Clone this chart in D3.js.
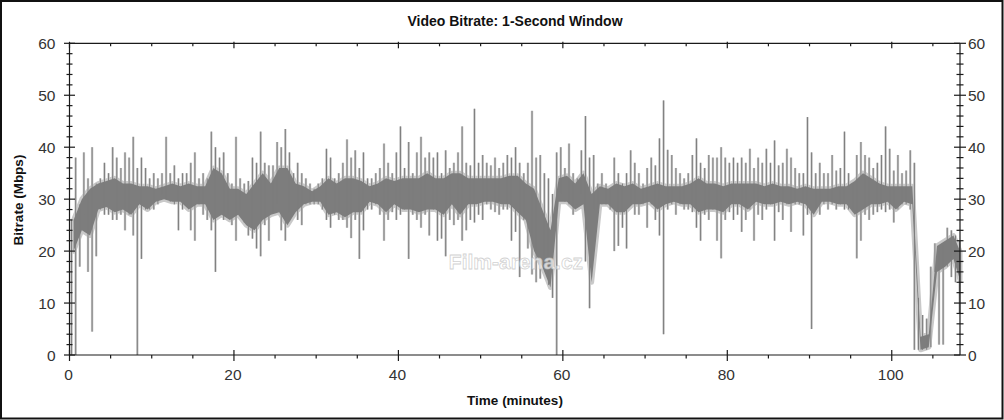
<!DOCTYPE html>
<html>
<head>
<meta charset="utf-8">
<script src="https://cdn.jsdelivr.net/npm/d3@7"></script>
<style>
  html, body { margin: 0; padding: 0; background: #fff; }
  svg { display: block; }
  text { font-family: "Liberation Sans", Arial, sans-serif; }
</style>
</head>
<body>
<svg id="chart" width="1004" height="420"></svg>
<script>
// ---- data ----
const title = "Video Bitrate: 1-Second Window";
const xLabel = "Time (minutes)";
const yLabel = "Bitrate (Mbps)";
const watermark = "Film-arena.cz";
const xTicks = [0, 20, 40, 60, 80, 100];
const yTicks = [0, 10, 20, 30, 40, 50, 60];
const binMinutes = 0.5;   // each entry of binHigh / binLow covers half a minute
const coreMinutes = 1;    // each entry of coreHigh / coreLow covers one minute
// per-bin peak bitrate (Mbps)
const binHigh = [
  26, 38, 29, 39, 34, 40, 33, 34, 37, 35,
  40, 38, 36, 39, 38, 42, 36, 38, 36, 34,
  35, 34, 35, 42, 35, 36.5, 34, 35, 35, 37,
  39, 34, 35, 34, 43, 40, 38, 39, 35, 33,
  42, 34, 33, 33.5, 38, 37, 43, 37, 36.5, 36.5,
  41, 40, 43.5, 39, 35, 37, 35, 34, 33, 32,
  33, 34, 39.7, 38, 34, 35, 37, 41.5, 38, 39.4,
  36, 39, 34, 34, 35, 36, 40.7, 37, 35, 39,
  44, 36, 41, 35, 39, 42, 38, 39, 38, 39,
  35, 39.4, 36, 37, 39, 44, 37, 36.5, 47.4, 37,
  38.5, 37, 36.5, 38, 36, 37, 38.5, 38, 40, 37,
  35, 37, 47, 38, 38.5, 35, 34, 31, 39, 40,
  36, 40.7, 35, 34, 39.4, 46, 38, 38.5, 33, 35,
  33, 32, 38, 35, 33, 35, 39.4, 37, 35, 33,
  36, 38, 36.5, 41.7, 49, 39.5, 38.5, 36, 35, 34,
  35, 38.5, 41.7, 37, 36, 38.5, 38, 38, 40, 38,
  37, 38, 37, 38, 37, 39.7, 36, 38, 37, 39.7,
  37, 41.3, 36.5, 37, 39.7, 38, 36, 35, 35, 45.8,
  39, 35, 37, 35, 35, 38.5, 35.5, 36, 43, 35,
  33, 38.5, 41, 38.5, 38, 36, 37, 38.5, 44, 39.7,
  35.5, 38.5, 35, 35.5, 39.4, 37, 11, 7.7, 7, 17,
  21.5, 20, 21, 24.5, 24, 23, 22
];
// per-bin lowest bitrate (Mbps)
const binLow = [
  0, 0, 17, 27, 16, 4.5, 19, 28, 27, 27,
  26, 26, 27, 24, 27, 23, 0, 18.5, 28, 28,
  28, 29, 30.8, 30, 29.5, 29, 24, 28, 29, 24,
  22, 29, 27, 26, 24, 16, 28, 26, 27, 25,
  22, 28, 25.5, 23, 22.4, 20.5, 19, 25, 22, 27.5,
  29, 24, 22, 27.5, 28, 26, 25, 29, 29, 29,
  29, 28, 26, 24.5, 27, 26, 26, 24.5, 22.5, 26,
  18.5, 24, 28, 28, 29, 27, 22, 26, 27.5, 26,
  27, 28, 18.5, 27, 26, 24.5, 27, 23, 28, 22,
  22.4, 19, 26, 25, 26, 22, 24, 26, 25.5, 27,
  26, 29, 28, 27.5, 27, 28, 28, 22, 23.7, 15,
  26, 20.5, 15.5, 14, 14.7, 16.7, 13.5, 11, 0, 31,
  29.5, 29, 27, 29, 31, 18, 9, 28, 28, 29,
  29, 28, 20, 21, 24.5, 20.5, 29, 27, 27, 29,
  24.5, 29, 26, 23, 4, 28, 29, 27, 29, 28,
  28, 27.5, 24.5, 22, 27, 26, 28, 22, 18.6, 26,
  27.5, 26, 27, 23.7, 26, 28, 22, 27, 26, 28,
  29, 22, 27.5, 26, 29, 23.7, 29, 29, 23, 27,
  5, 28, 27, 29, 28, 29, 28, 29, 28, 28,
  28, 18.6, 22, 27, 26, 27, 27.5, 28, 27.5, 28,
  25.5, 28, 29, 29, 28, 1, 1, 1, 1, 1.5,
  16, 2, 2, 17, 15, 14, 8
];
// dense band of the trace, per minute: upper edge (Mbps)
const coreHigh = [
  26, 30, 32, 33, 33.5, 34, 33, 33, 32.5, 32.5,
  32, 32.5, 33, 32.5, 33, 32.5, 32.5, 36, 35, 32,
  32, 31, 33, 35, 33, 36, 36, 33, 32.5, 31.5,
  32.5, 34, 33, 34, 34, 33.5, 32.5, 33, 34, 33.5,
  34, 34, 34, 35, 34, 34, 35, 35, 34, 34,
  34, 34, 34, 34.5, 34.5, 33, 32, 28, 24, 34,
  34.5, 33, 35, 31, 32.5, 32, 33, 32.5, 33, 32,
  32.5, 33, 32.5, 32.5, 32.5, 33, 34, 33, 33, 32.5,
  33, 33, 33, 33, 32.5, 33, 32.5, 32.5, 32, 32.5,
  32, 32, 32, 32.5, 32.5, 33.5, 35, 34, 33, 32.5,
  32.5, 32.5, 32.5, 3.5, 4, 21, 22, 23, 20
];
// dense band of the trace, per minute: lower edge (Mbps)
const coreLow = [
  20, 24, 23, 28, 28.5, 27.5, 28, 27, 29, 28,
  29.5, 30, 29.5, 29.5, 28, 29, 29, 26, 27, 26,
  27, 25, 24, 26, 27, 27.5, 25, 27.5, 29, 29.5,
  29.5, 27, 27.5, 26.5, 27.5, 27.5, 29.5, 29, 27.5, 29,
  28, 28, 27.5, 28, 28, 27, 29, 27, 29, 29,
  29.5, 29.5, 29, 29, 27.5, 26, 20, 17, 13, 29.5,
  29.5, 28, 29, 14, 29, 29, 27.5, 27.5, 29, 29,
  29.5, 28, 29, 29.5, 29, 29, 27.5, 28, 28, 27.5,
  29, 29, 28, 29.5, 29, 29, 29.5, 29, 29.5, 29,
  27, 29.5, 29.5, 29, 29, 27, 28, 29, 29, 29.5,
  28, 29.5, 29, 1, 1.5, 16, 17, 18.5, 14.5
];

// ---- layout ----
const W = 1004, H = 420;
const svg = d3.select("#chart");
const x = d3.scaleLinear().domain([0, 108.3]).range([69.5, 960]);
const y = d3.scaleLinear().domain([0, 60]).range([355, 43.3]);
const axisColor = "#1a1a1a";
const labelColor = "#333";
const traceDark = "#7d7d7d";
const traceLight = "#c9c9c9";

// outer frame
svg.append("rect").attr("x", 1).attr("y", 1).attr("width", W - 2.5).attr("height", H - 2.5)
  .attr("fill", "#fff").attr("stroke", "#111").attr("stroke-width", 2);

const plot = svg.append("g");
const tEnd = x.domain()[1];

// ---- dense band ----
const core = coreHigh.map((h, i) => ({
  t: Math.min(i * coreMinutes + coreMinutes / 2, tEnd), hi: h, lo: coreLow[i]
}));
const area = d3.area().x(d => x(d.t)).y0(d => y(d.lo)).y1(d => y(d.hi));

// ---- per-bin extremes as vertical strokes ----
const bins = binHigh.map((h, i) => ({ t: i * binMinutes + binMinutes / 2, hi: h, lo: binLow[i] }));

// light fringe
plot.append("path").attr("d", area(core)).attr("fill", traceLight)
  .attr("stroke", traceLight).attr("stroke-width", 5).attr("stroke-linejoin", "round");
plot.selectAll("line.halo").data(bins).join("line").attr("class", "halo")
  .attr("x1", d => x(d.t)).attr("x2", d => x(d.t))
  .attr("y1", d => y(d.hi)).attr("y2", d => y(d.lo))
  .attr("stroke", traceLight).attr("stroke-width", 2.4);
// dark trace
plot.append("path").attr("d", area(core)).attr("fill", traceDark).attr("stroke", "none");
plot.selectAll("line.spike").data(bins).join("line").attr("class", "spike")
  .attr("x1", d => x(d.t)).attr("x2", d => x(d.t))
  .attr("y1", d => y(d.hi)).attr("y2", d => y(d.lo))
  .attr("stroke", traceDark).attr("stroke-width", 1);

// watermark
svg.append("text").attr("x", x(54.3)).attr("y", y(16.6))
  .attr("text-anchor", "middle").attr("font-size", 21).attr("font-weight", "bold")
  .attr("fill", "#ffffff").attr("fill-opacity", 0.7)
  .attr("stroke", "#bdbdbd").attr("stroke-width", 0.8).attr("stroke-opacity", 0.7)
  .text(watermark);

// ---- axes ----
const axes = svg.append("g").attr("stroke", axisColor).attr("stroke-width", 1.2);
const [x0, x1] = x.range();
const [yb, yt] = y.range();
axes.append("line").attr("x1", x0).attr("x2", x1).attr("y1", yb).attr("y2", yb);
axes.append("line").attr("x1", x0).attr("x2", x1).attr("y1", yt).attr("y2", yt);
axes.append("line").attr("x1", x0).attr("x2", x0).attr("y1", yt).attr("y2", yb);
axes.append("line").attr("x1", x1).attr("x2", x1).attr("y1", yt).attr("y2", yb);

const xMinor = d3.range(0, tEnd, 5).filter(v => !xTicks.includes(v));
const yMinor = d3.range(0, 61, 2).filter(v => !yTicks.includes(v));

xTicks.forEach(v => {
  axes.append("line").attr("x1", x(v)).attr("x2", x(v)).attr("y1", yb - 5).attr("y2", yb + 6);
  axes.append("line").attr("x1", x(v)).attr("x2", x(v)).attr("y1", yt - 1.5).attr("y2", yt + 5);
});
xMinor.forEach(v => {
  axes.append("line").attr("x1", x(v)).attr("x2", x(v)).attr("y1", yb).attr("y2", yb + 3.5);
  axes.append("line").attr("x1", x(v)).attr("x2", x(v)).attr("y1", yt).attr("y2", yt + 3);
});
yTicks.forEach(v => {
  axes.append("line").attr("x1", x0 - 5.5).attr("x2", x0 + 5.5).attr("y1", y(v)).attr("y2", y(v));
  axes.append("line").attr("x1", x1 - 6).attr("x2", x1 + 6).attr("y1", y(v)).attr("y2", y(v));
});
yMinor.forEach(v => {
  axes.append("line").attr("x1", x0 - 3).attr("x2", x0 + 3).attr("y1", y(v)).attr("y2", y(v));
  axes.append("line").attr("x1", x1 - 3.5).attr("x2", x1 + 3.5).attr("y1", y(v)).attr("y2", y(v));
});

// tick labels
const lab = svg.append("g").attr("font-size", 15.5).attr("fill", labelColor);
xTicks.forEach(v => {
  lab.append("text").attr("x", x(v) - 1).attr("y", 380).attr("text-anchor", "middle").text(v);
});
yTicks.forEach(v => {
  lab.append("text").attr("x", 55.5).attr("y", y(v) + 5.5).attr("text-anchor", "end").text(v);
  lab.append("text").attr("x", 968).attr("y", y(v) + 5.5).attr("text-anchor", "start").text(v);
});

// titles
svg.append("text").attr("x", 515).attr("y", 26).attr("text-anchor", "middle")
  .attr("font-size", 14).attr("font-weight", "bold").attr("fill", "#111").text(title);
svg.append("text").attr("x", 515).attr("y", 405).attr("text-anchor", "middle")
  .attr("font-size", 13.5).attr("font-weight", "bold").attr("fill", "#111").text(xLabel);
svg.append("text").attr("transform", "translate(23,200) rotate(-90)").attr("text-anchor", "middle")
  .attr("font-size", 13.5).attr("font-weight", "bold").attr("fill", "#111").text(yLabel);
</script>
</body>
</html>
